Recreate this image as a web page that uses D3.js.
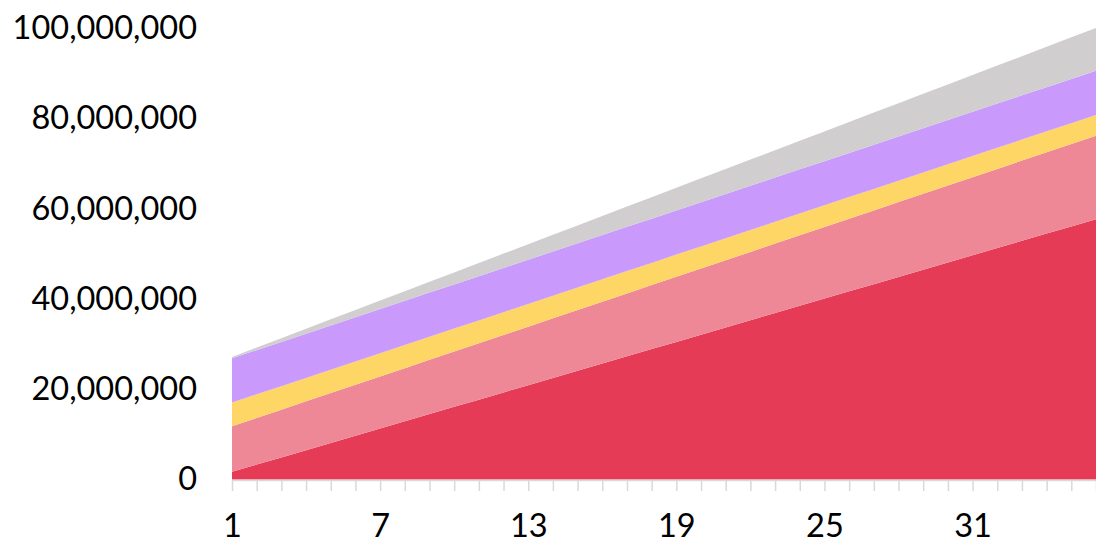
<!DOCTYPE html>
<html>
<head>
<meta charset="utf-8">
<script src="https://cdn.jsdelivr.net/npm/d3@7"></script>
<style>
  html, body { margin: 0; padding: 0; background: #fff; }
  svg { display: block; }
  .tick-label { font-family: Lato, "Open Sans", sans-serif; fill: #000; }
</style>
</head>
<body>
<svg id="chart" width="1096" height="543"></svg>
<script>
// Periods 1..36
const categories = d3.range(1, 37);

// Series values, in millions
const seriesA = [1.7, 3.3, 4.9, 6.5, 8.1, 9.7, 11.3, 12.9, 14.5, 16.1, 17.7, 19.3, 20.9, 22.5, 24.1, 25.7, 27.3, 28.9, 30.5, 32.1, 33.7, 35.3, 36.9, 38.5, 40.1, 41.7, 43.3, 44.9, 46.5, 48.1, 49.7, 51.3, 52.9, 54.5, 56.1, 57.7];
const seriesB = [10.10, 10.34, 10.58, 10.82, 11.06, 11.30, 11.54, 11.78, 12.02, 12.26, 12.50, 12.74, 12.98, 13.22, 13.46, 13.70, 13.94, 14.18, 14.42, 14.66, 14.90, 15.14, 15.38, 15.62, 15.86, 16.10, 16.34, 16.58, 16.82, 17.06, 17.30, 17.54, 17.78, 18.02, 18.26, 18.50];
const seriesC = [5.25, 5.23, 5.21, 5.19, 5.18, 5.16, 5.14, 5.12, 5.10, 5.08, 5.06, 5.05, 5.03, 5.01, 4.99, 4.97, 4.95, 4.93, 4.92, 4.90, 4.88, 4.86, 4.84, 4.82, 4.80, 4.79, 4.77, 4.75, 4.73, 4.71, 4.69, 4.67, 4.66, 4.64, 4.62, 4.60];
const seriesD = [9.8, 9.8, 9.8, 9.8, 9.8, 9.8, 9.8, 9.8, 9.8, 9.8, 9.8, 9.8, 9.8, 9.8, 9.8, 9.8, 9.8, 9.8, 9.8, 9.8, 9.8, 9.8, 9.8, 9.8, 9.8, 9.8, 9.8, 9.8, 9.8, 9.8, 9.8, 9.8, 9.8, 9.8, 9.8, 9.8];
const seriesE = [0.30, 0.56, 0.82, 1.09, 1.35, 1.61, 1.87, 2.13, 2.40, 2.66, 2.92, 3.18, 3.44, 3.71, 3.97, 4.23, 4.49, 4.75, 5.02, 5.28, 5.54, 5.80, 6.06, 6.33, 6.59, 6.85, 7.11, 7.37, 7.64, 7.90, 8.16, 8.42, 8.68, 8.95, 9.21, 9.47];

const seriesKeys = ["A", "B", "C", "D", "E"];
const seriesColors = ["#E53B57", "#EF8896", "#FDD666", "#CA99FC", "#D0CECF"];
const yTicks = [0, 20000000, 40000000, 60000000, 80000000, 100000000];
const xTickLabels = [1, 7, 13, 19, 25, 31];

const UNIT = 1e6;
const rows = categories.map((c, i) => ({
  cat: c,
  A: seriesA[i] * UNIT,
  B: seriesB[i] * UNIT,
  C: seriesC[i] * UNIT,
  D: seriesD[i] * UNIT,
  E: seriesE[i] * UNIT
}));

const svg = d3.select("#chart");
const plotLeft = 232, plotRight = 1096, plotTop = 28.3, plotBottom = 479.5;

const x = d3.scalePoint().domain(categories).range([plotLeft, plotRight]);
const y = d3.scaleLinear().domain([0, 100000000]).range([plotBottom, plotTop]);

const layers = d3.stack().keys(seriesKeys)(rows);

const area = d3.area()
  .x(d => x(d.data.cat))
  .y0(d => y(d[0]))
  .y1(d => y(d[1]));

svg.append("g")
  .selectAll("path")
  .data(layers)
  .join("path")
  .attr("d", area)
  .attr("fill", (d, i) => seriesColors[i]);

// Category axis with a tick at every period
const xAxis = d3.axisBottom(x)
  .tickSizeInner(11)
  .tickSizeOuter(0)
  .tickFormat(d => xTickLabels.includes(d) ? d : "");
const gx = svg.append("g")
  .attr("transform", `translate(0,${plotBottom + 0.5})`)
  .call(xAxis);
gx.select(".domain").attr("stroke", "#D9D9D9").attr("stroke-width", 1.5);
gx.selectAll(".tick line").attr("stroke", "#D9D9D9").attr("stroke-width", 1.5);
gx.selectAll(".tick text")
  .attr("class", "tick-label")
  .attr("font-size", 32.5)
  .attr("y", 34)
  .attr("dy", "0.71em")
  .attr("font-family", null);

// Value axis labels only
const yAxis = d3.axisLeft(y)
  .tickValues(yTicks)
  .tickSize(0)
  .tickPadding(0)
  .tickFormat(d3.format(","));
const gy = svg.append("g")
  .attr("transform", "translate(197,0)")
  .call(yAxis);
gy.select(".domain").remove();
gy.selectAll(".tick text")
  .attr("class", "tick-label")
  .attr("font-size", 32.5)
  .attr("font-family", null);
</script>
</body>
</html>
